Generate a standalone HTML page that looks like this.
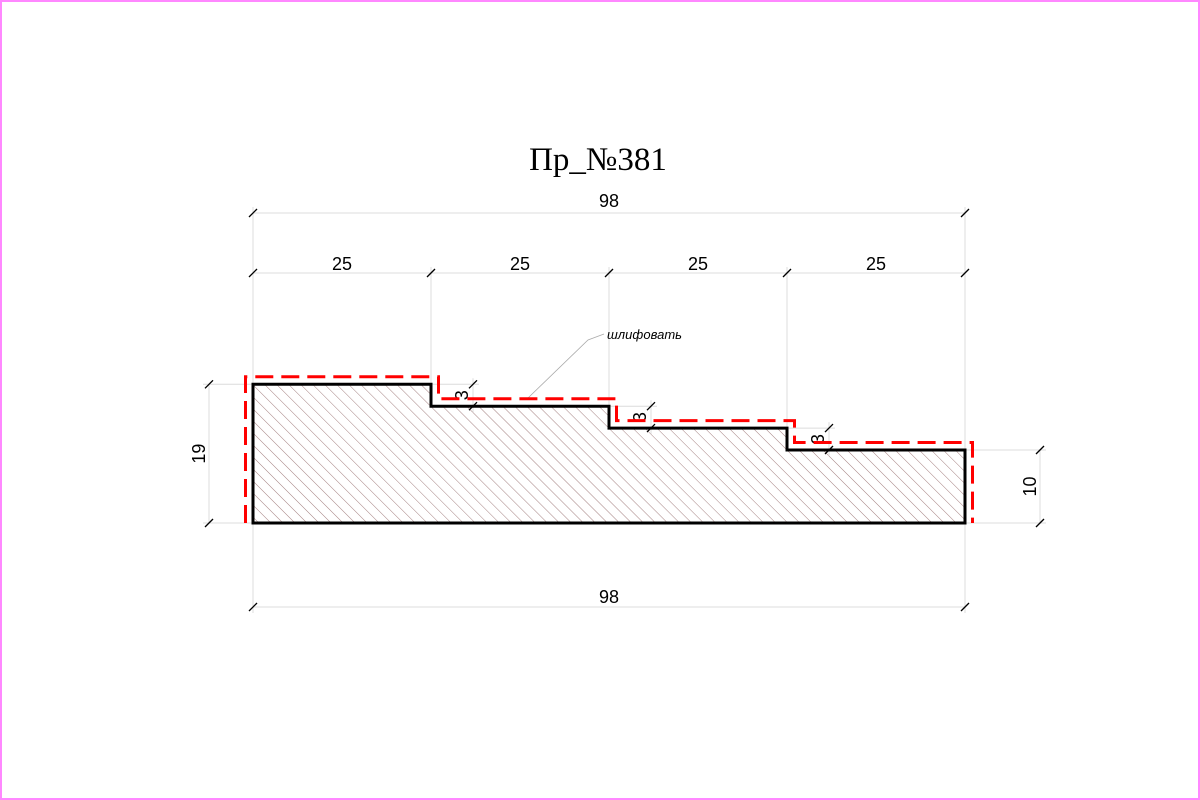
<!DOCTYPE html>
<html><head><meta charset="utf-8">
<style>
html,body{margin:0;padding:0;background:#fff;}
svg{display:block;}
text{font-family:"Liberation Sans",sans-serif;}
</style></head>
<body>
<svg id="drw" width="1200" height="800" viewBox="0 0 1200 800">
<defs>
<pattern id="hatch" patternUnits="userSpaceOnUse" width="8.5" height="8.5" patternTransform="rotate(-45)">
<line x1="0" y1="0" x2="0" y2="8.5" stroke="#8c6060" stroke-width="0.8"/>
</pattern>
</defs>
<rect x="1" y="1" width="1198" height="798" fill="#fff" stroke="#ff88ff" stroke-width="2"/>
<text x="598" y="170" text-anchor="middle" font-size="33" style="font-family:'Liberation Serif',serif">Пр_№381</text>
<g id="g"></g>
</svg>
<script>
const stepWidths = [25, 25, 25, 25];
const stepHeights = [19, 16, 13, 10];
const totalLabel = "98";
const stepLabels = ["25","25","25","25"];
const offsetLabel = "3";
const noteLabel = "шлифовать";

const NS = "http://www.w3.org/2000/svg";
const g = document.getElementById('g');
const total = stepWidths.reduce((a,b)=>a+b,0);
const x0 = 253, x1 = 965, yb = 523;
const k = (x1 - x0) / total;
const ky = 7.3;
const X = v => x0 + v * k;
const Y = v => yb - v * ky;
function el(tag, attrs, name){
  const e = document.createElementNS(NS, tag);
  for (const a in attrs) e.setAttribute(a, attrs[a]);
  
  
  g.appendChild(e); return e;
}
function txt(x,y,s,name,rot){
  const t = el('text',{x:x,y:y,'text-anchor':'middle','font-size':18},name);
  if(rot) t.setAttribute('transform',`rotate(-90 ${x} ${y})`);
  t.textContent = s; return t;
}
const gray = "#dcdcdc";
function tick(x,y,name){ el('line',{x1:x-4,y1:y+4,x2:x+4,y2:y-4,stroke:'#000','stroke-width':1.3},name); }

let pts = [[X(0),Y(0)],[X(0),Y(stepHeights[0])]];
let acc = 0;
for (let i=0;i<stepWidths.length;i++){
  acc += stepWidths[i];
  pts.push([X(acc),Y(stepHeights[i])]);
  if (i<stepWidths.length-1) pts.push([X(acc),Y(stepHeights[i+1])]);
}
pts.push([X(acc),Y(0)]);
const d = "M"+pts.map(p=>p.join(",")).join(" L")+" Z";
el('path',{d:d,fill:'url(#hatch)'},'hatch-fill');

const o = 7.5;
let rp = [[X(0)-o,Y(0)],[X(0)-o,Y(stepHeights[0])-o]];
acc=0;
for (let i=0;i<stepWidths.length;i++){
  acc += stepWidths[i];
  const last = i===stepWidths.length-1;
  rp.push([X(acc)+o,Y(stepHeights[i])-o]);
  if(!last) rp.push([X(acc)+o,Y(stepHeights[i+1])-o]);
}
rp.push([X(acc)+o,Y(0)]);

const topDimY = 213, stepDimY = 273, botDimY = 607;
acc=0;
const xs=[0];
stepWidths.forEach(w=>{acc+=w;xs.push(acc);});
xs.forEach((v,i)=>{
  const yTop = i===0?Y(stepHeights[0]):(i===xs.length-1?Y(stepHeights[stepHeights.length-1]):Y(stepHeights[i-1]));
  el('line',{x1:X(v),y1:(i===0||i===xs.length-1)?topDimY-6:stepDimY-6,x2:X(v),y2:yTop,stroke:gray,'stroke-width':1},'extension-line');
});
el('line',{x1:X(0),y1:Y(0),x2:X(0),y2:botDimY+6,stroke:gray,'stroke-width':1},'extension-line');
el('line',{x1:X(total),y1:Y(0),x2:X(total),y2:botDimY+6,stroke:gray,'stroke-width':1},'extension-line');

el('line',{x1:X(0),y1:topDimY,x2:X(total),y2:topDimY,stroke:gray,'stroke-width':1},'dim-line-top');
tick(X(0),topDimY,'tick');tick(X(total),topDimY,'tick');
txt((X(0)+X(total))/2,topDimY-6,totalLabel,'dim-top-label');
el('line',{x1:X(0),y1:stepDimY,x2:X(total),y2:stepDimY,stroke:gray,'stroke-width':1},'dim-line-steps');
xs.forEach(v=>tick(X(v),stepDimY,'tick'));
for(let i=0;i<stepWidths.length;i++) txt((X(xs[i])+X(xs[i+1]))/2,stepDimY-3,stepLabels[i],'dim-step-label');
el('line',{x1:X(0),y1:botDimY,x2:X(total),y2:botDimY,stroke:gray,'stroke-width':1},'dim-line-bottom');
tick(X(0),botDimY,'tick');tick(X(total),botDimY,'tick');
txt((X(0)+X(total))/2,botDimY-4,totalLabel,'dim-bottom-label');
const lx = 209;
el('line',{x1:lx-6,y1:Y(stepHeights[0]),x2:X(0),y2:Y(stepHeights[0]),stroke:gray,'stroke-width':1},'extension-line');
el('line',{x1:lx-6,y1:Y(0),x2:X(0),y2:Y(0),stroke:gray,'stroke-width':1},'extension-line');
el('line',{x1:lx,y1:Y(stepHeights[0]),x2:lx,y2:Y(0),stroke:gray,'stroke-width':1},'dim-line-left');
tick(lx,Y(stepHeights[0]),'tick');tick(lx,Y(0),'tick');
txt(lx-4,(Y(0)+Y(stepHeights[0]))/2,String(stepHeights[0]),'dim-left-label',true);
const rx = 1040, hl = stepHeights[stepHeights.length-1];
el('line',{x1:X(total),y1:Y(hl),x2:rx+6,y2:Y(hl),stroke:gray,'stroke-width':1},'extension-line');
el('line',{x1:X(total),y1:Y(0),x2:rx+6,y2:Y(0),stroke:gray,'stroke-width':1},'extension-line');
el('line',{x1:rx,y1:Y(hl),x2:rx,y2:Y(0),stroke:gray,'stroke-width':1},'dim-line-right');
tick(rx,Y(hl),'tick');tick(rx,Y(0),'tick');
txt(rx-4,(Y(0)+Y(hl))/2,String(hl),'dim-right-label',true);
for(let i=0;i<stepWidths.length-1;i++){
  const sx = X(xs[i+1]) + 42;
  const ya = Y(stepHeights[i]), yb2 = Y(stepHeights[i+1]);
  el('line',{x1:X(xs[i+1]),y1:ya,x2:sx+6,y2:ya,stroke:gray,'stroke-width':1},'extension-line');
  el('line',{x1:sx,y1:ya-6,x2:sx,y2:yb2+6,stroke:gray,'stroke-width':1},'dim-line-step-offset');
  tick(sx,ya,'tick');tick(sx,yb2,'tick');
  txt(sx-5,(ya+yb2)/2,offsetLabel,'dim-step-offset-label',true);
}
el('polyline',{points:`528,398 588,340 604,334`,fill:'none',stroke:'#aaa','stroke-width':0.8},'note-leader');
const n = el('text',{x:607,y:339,'font-size':13,'font-style':'italic'},'note-label');
n.textContent = noteLabel;

el('path',{d:d,fill:'none',stroke:'#000','stroke-width':3,'stroke-linejoin':'miter'},'profile-outline');
el('polyline',{points:rp.map(p=>p.join(",")).join(" "),fill:'none',stroke:'#ff0000','stroke-width':3,'stroke-dasharray':'18 8'},'sanding-offset-line');
</script>
</body></html>
